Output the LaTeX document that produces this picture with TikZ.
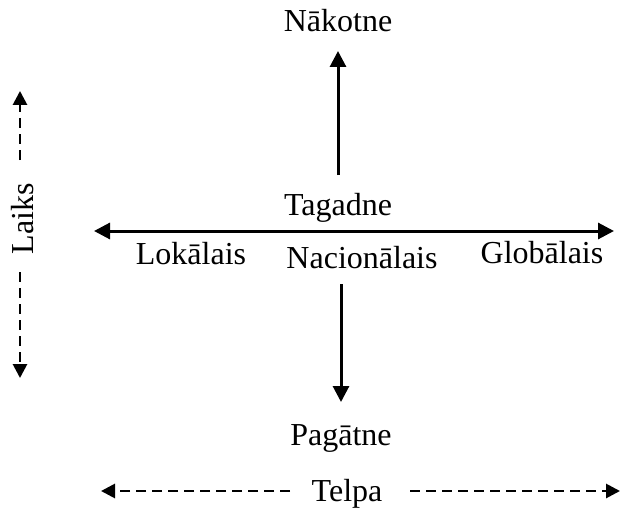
\documentclass[tikz,border=0pt]{standalone}
\usepackage{fontspec}
\setmainfont{Liberation Serif}
\usetikzlibrary{arrows.meta}
\begin{document}
\begin{tikzpicture}[x=1pt,y=-1pt,
  lbl/.style={inner sep=0pt,font=\fontsize{32}{36}\selectfont},
  solidarrow/.style={line width=3pt,-{Triangle[length=16pt,width=16pt]}},
  dasharrow/.style={line width=2.8pt,dash pattern=on 10pt off 6pt,-{Triangle[length=14pt,width=14pt]}}]
\useasboundingbox (0,0) rectangle (621,508);
\node[lbl] (nak) at (338,21) {Nākotne};
\node[lbl] (tag) at (338,208) {Tagadne};
\node[lbl] (lok) at (191,254) {Lokālais};
\node[lbl] (nac) at (362,258) {Nacionālais};
\node[lbl] (glo) at (542,253) {Globālais};
\node[lbl] (pag) at (341,438) {Pagātne};
\node[lbl,rotate=90] (laiks) at (23,219) {Laiks};
\node[lbl] (telpa) at (347,494) {Telpa};
% solid arrows
\coordinate (upS) at (338,175);
\coordinate (upE) at (338,51);
\draw[solidarrow] (upS) -- (upE);
\coordinate (hM) at (354,231);
\coordinate (hL) at (94,231);
\coordinate (hR) at (614,231);
\draw[solidarrow] (hM) -- (hL);
\draw[solidarrow] (hM) -- (hR);
\coordinate (dnS) at (341,284);
\coordinate (dnE) at (341,402);
\draw[solidarrow] (dnS) -- (dnE);
% dashed arrows
\coordinate (vT) at (20,91);
\coordinate (vTs) at (20,160);
\coordinate (vB) at (20,378);
\coordinate (vBs) at (20,272);
\draw[dasharrow] (vTs) -- (vT);
\draw[dasharrow] (vBs) -- (vB);
\coordinate (bL) at (101,491);
\coordinate (bLs) at (290,491);
\coordinate (bR) at (620,491);
\coordinate (bRs) at (410,491);
\draw[dasharrow] (bLs) -- (bL);
\draw[dasharrow] (bRs) -- (bR);
\end{tikzpicture}
\end{document}
